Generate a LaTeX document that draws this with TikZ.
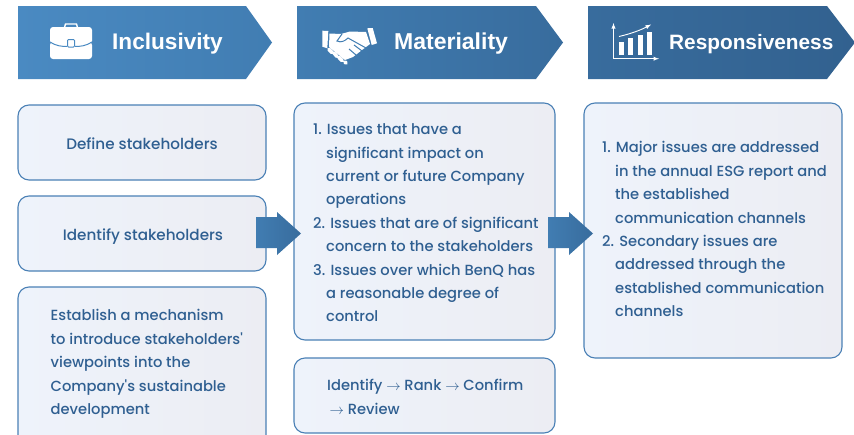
\documentclass[tikz,border=0pt]{standalone}
\usepackage{fontspec}
\setmainfont{Poppins Medium}[Ligatures=TeXOff]
\newfontfamily\headfont{Liberation Sans}
\usepackage{tikz}
\usetikzlibrary{calc}
\definecolor{txtblue}{HTML}{2F5F91}
\definecolor{boxline}{HTML}{4A80B5}
\definecolor{boxleft}{HTML}{EEF3FB}
\definecolor{boxright}{HTML}{ECEDF3}
\definecolor{headA}{HTML}{4A8AC2}
\definecolor{headB}{HTML}{417DB2}
\definecolor{headC}{HTML}{386C9D}
\definecolor{headD}{HTML}{32618F}
\begin{document}
\begin{tikzpicture}[x=1pt, y=-1pt,
	box/.style={rounded corners=11pt, draw=boxline, line width=1.1pt, left color=boxleft, right color=boxright},
	bodytext/.style={text=txtblue, align=left, anchor=west, inner sep=0pt, font=\fontsize{14.7}{23.4}\selectfont},
	shorttext/.style={text=txtblue, inner sep=0pt, font=\fontsize{15.2}{23.4}\selectfont},
	headtext/.style={text=white, anchor=base west, inner sep=0pt, font=\headfont\bfseries\fontsize{23}{26}\selectfont},
	icon/.style={fill=white, draw=none}
	]

	\def\hang{\hspace*{13pt}} % hanging indent of the lists
	\useasboundingbox (0,0) rectangle (854,434);
	\clip (0,0) rectangle (854,434);

	% headers
	\shade[left color=headA, right color=headB] (18,6) -- (246,6) -- (272,42.5) -- (246,79) -- (18,79) -- cycle;
	\shade[left color=headB, right color=headC] (297,6) -- (536,6) -- (563,42.5) -- (536,79) -- (297,79) -- cycle;
	\shade[left color=headC, right color=headD] (588,6) -- (827,6) -- (855,42.5) -- (827,79) -- (588,79) -- cycle;
	\node[headtext, font=\headfont\bfseries\fontsize{22.6}{26}\selectfont] (inclusivity) at (112,49.5) {Inclusivity};
	\node[headtext] (materiality) at (394,49.5) {Materiality};
	\node[headtext, font=\headfont\bfseries\fontsize{20.8}{26}\selectfont] (responsiveness) at (669,49) {Responsiveness};

	% briefcase
	\draw[white, line width=1.4pt] (64.5,27.5) -- (65.5,24) -- (76.5,24) -- (77.5,27.5);
	\fill[icon, rounded corners=3pt] (50,27) rectangle (92,44);
	\fill[icon, rounded corners=3pt] (50,42) rectangle (92,59);
	\draw[headA, line width=1pt] (50,42) .. controls (56,46) and (62,46.5) .. (67,46.5);
	\draw[headA, line width=1pt] (92,42) .. controls (86,46) and (80,46.5) .. (75,46.5);
	\draw[headA, line width=1pt, fill=white, rounded corners=1pt] (67.5,39.5) rectangle (74.5,47);

	% handshake
	\fill[icon] (322.3,30.7) -- (328.3,31) -- (327.3,48.3) -- (322.3,46.7) -- cycle;
	\fill[icon] (367.3,28.3) -- (372.7,28) -- (377,43.3) -- (371.7,45) -- cycle;
	\fill[icon] (329.5,33.5) -- (341,34) -- (350,31.5) -- (366,32) -- (370,44) -- (362,50) -- (353,57) -- (345,60) -- (329,47) -- cycle;
	\draw[headB, line width=1pt] (342,34) -- (337,41) .. controls (341,43) and (345,41) .. (348,38) -- (366,48);
	\draw[headB, line width=1pt] (362,51) -- (354,45) (356,55) -- (349,49);
	\draw[icon, draw=white, line width=3.6pt, line cap=round] (329,49.5) -- (332,52.5) (334,53) -- (337,56.5) (339,57.5) -- (342,60.5) (345,62) -- (346,63);

	% chart
	\draw[white, line width=0.9pt, -latex] (613.5,58.7) -- (613.5,23);
	\draw[white, line width=0.9pt, -latex] (613.5,58.7) -- (659,58.7);
	\draw[white, line width=0.9pt, -latex] (619,36.5) .. controls (630,34) and (641,30) .. (651,24.5);
	\fill[icon] (618.5,42) rectangle (623.5,55);
	\fill[icon] (628,38) rectangle (633,55);
	\fill[icon] (637.5,35) rectangle (642.5,55);
	\fill[icon] (647,32) rectangle (652,55);

	% column 1
	\draw[box] (18,105) rectangle (266,180);
	\draw[box] (18,196) rectangle (266,271);
	\draw[box] (18,287) rectangle (266,450);
	\node[shorttext] (define) at (142,143.5) {Define stakeholders};
	\node[shorttext] (identify) at (143,236.5) {Identify stakeholders};
	\node[bodytext] (establish) at (50.5,364) {Establish a mechanism\\to introduce stakeholders'\\viewpoints into the\\Company's sustainable\\development};

	% column 2
	\draw[box] (294,103) rectangle (555,340);
	\draw[box] (294,358) rectangle (555,433);
	\node[bodytext] (issues) at (313,223) {1. Issues that have a\\\hang significant impact on\\\hang current or future Company\\\hang operations\\2. Issues that are of significant\\\hang concern to the stakeholders\\3. Issues over which BenQ has\\\hang a reasonable degree of\\\hang control};
	\node[bodytext] (steps) at (327,397) {Identify $\rightarrow$ Rank $\rightarrow$ Confirm\\\,$\rightarrow$ Review};

	% column 3
	\draw[box] (584,103) rectangle (842,358);
	\node[bodytext] (major) at (602,229.3) {1. Major issues are addressed\\\hang in the annual ESG report and\\\hang the established\\\hang communication channels\\2. Secondary issues are\\\hang addressed through the\\\hang established communication\\\hang channels};

	% arrows between the columns
	\shade[left color=headB, right color=headC] (256,217) -- (277,217) -- (277,212) -- (301,233.5) -- (277,255) -- (277,248) -- (256,248) -- cycle;
	\shade[left color=headB, right color=headC] (548,217) -- (569,217) -- (569,212) -- (593,233.5) -- (569,255) -- (569,248) -- (548,248) -- cycle;

\end{tikzpicture}
\end{document}
